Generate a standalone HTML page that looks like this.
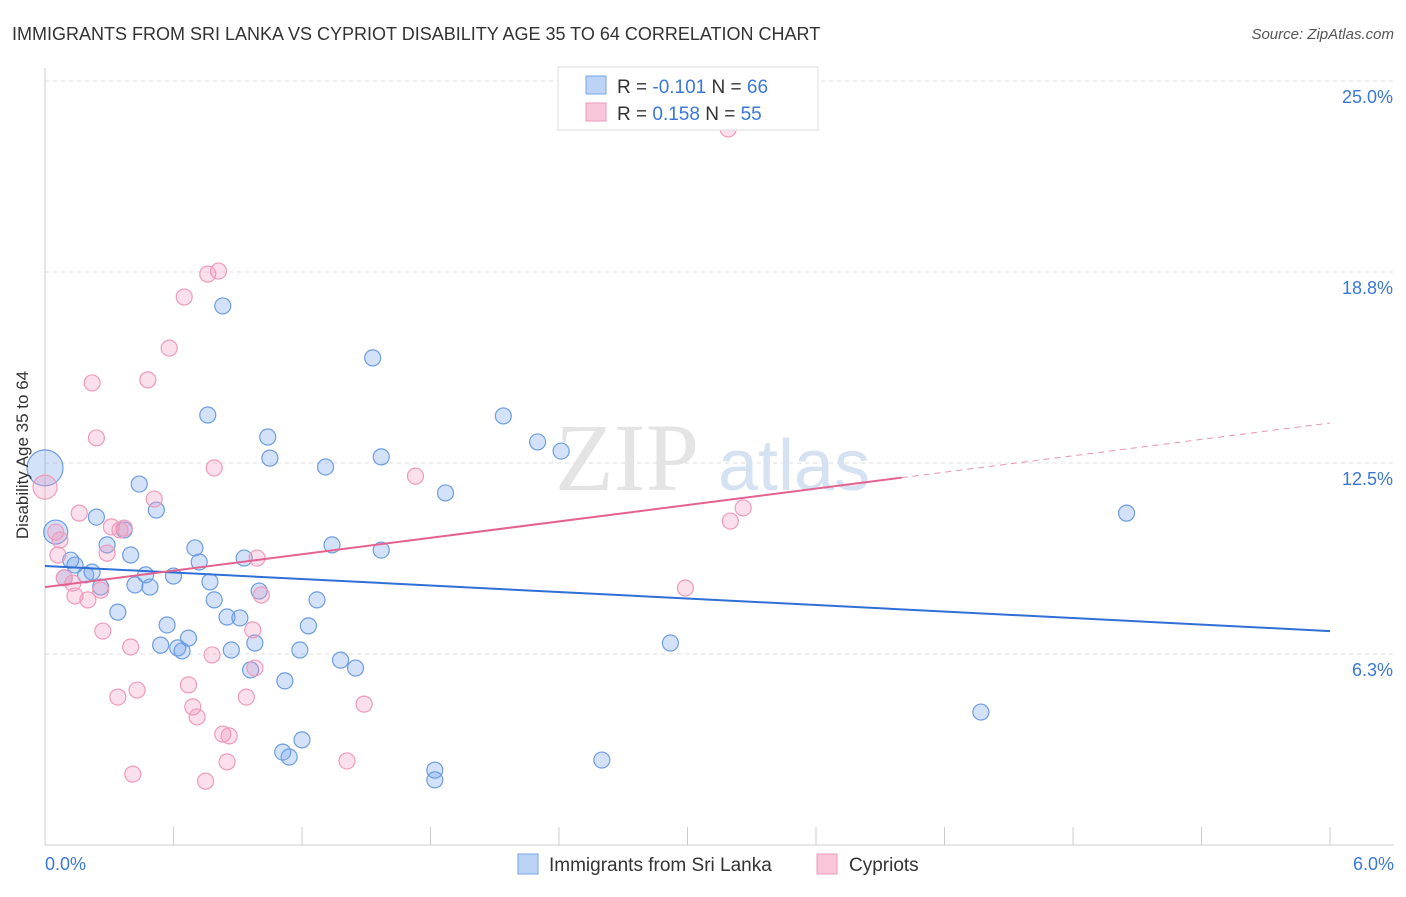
<!DOCTYPE html>
<html><head><meta charset="utf-8"><style>
body{margin:0;background:#fff;font-family:"Liberation Sans",sans-serif;}
</style></head><body>
<svg width="1406" height="892" xmlns="http://www.w3.org/2000/svg">
<text x="12" y="40" font-size="18" fill="#333">IMMIGRANTS FROM SRI LANKA VS CYPRIOT DISABILITY AGE 35 TO 64 CORRELATION CHART</text>
<text x="1394" y="39" font-size="15" fill="#555" font-style="italic" text-anchor="end">Source: ZipAtlas.com</text>
<g id="grid"></g>
<g id="axes"></g>
<text x="555" y="490" font-size="96" fill="#e4e4e4" font-family="Liberation Serif">ZIP</text>
<text x="718" y="490" font-size="72" fill="#d6e2f2">atlas</text>
<g id="marks"></g>
<g id="trends"></g>
<g>
<rect x="558" y="67" width="260" height="63" fill="#fff" stroke="#ddd"/>
<rect x="586" y="76" width="20" height="18" fill="#bcd3f5" stroke="#7aa5e6"/>
<rect x="586" y="103" width="20" height="18" fill="#f9c5d8" stroke="#ef9bbb"/>
<text x="617" y="93" font-size="19" fill="#333">R = <tspan fill="#3a78d8">-0.101</tspan>   N = <tspan fill="#3a78d8">66</tspan></text>
<text x="617" y="120" font-size="19" fill="#333">R =  <tspan fill="#3a78d8">0.158</tspan>   N = <tspan fill="#3a78d8">55</tspan></text>
</g>
<g>
<rect x="518" y="854" width="20" height="20" fill="#bcd3f5" stroke="#7aa5e6"/>
<text x="549" y="871" font-size="19" fill="#333">Immigrants from Sri Lanka</text>
<rect x="817" y="854" width="20" height="20" fill="#f9c5d8" stroke="#ef9bbb"/>
<text x="849" y="871" font-size="19" fill="#333">Cypriots</text>
</g>
<text x="28" y="455" font-size="17" fill="#333" text-anchor="middle" transform="rotate(-90 28 455)">Disability Age 35 to 64</text>
</svg>
<script>
const yTicks=[25,18.75,12.5,6.25];
const yTickLabels=["25.0%","18.8%","12.5%","6.3%"];
const xTicks=[0,0.6,1.2,1.8,2.4,3.0,3.6,4.2,4.8,5.4,6.0];
const xTickLabels=["0.0%","6.0%"];
const blueX=[0,.05,.12,.14,.09,.19,.22,.26,.24,.29,.34,.37,.40,.44,.47,.49,.42,.52,.54,.57,.60,.62,.64,.67,.70,.72,.76,.77,.79,.83,.85,.87,.91,.93,.96,.98,1.00,1.04,1.05,1.12,1.11,1.14,1.19,1.20,1.23,1.27,1.31,1.34,1.38,1.45,1.53,1.57,1.57,1.82,1.82,1.87,2.14,2.30,2.41,2.60,2.92,4.37,5.05];
const blueY=[12.34,10.24,9.32,9.16,8.74,8.84,8.93,8.44,10.73,9.82,7.62,10.31,9.49,11.81,8.84,8.44,8.51,10.96,6.54,7.20,8.80,6.45,6.35,6.77,9.72,9.26,14.07,8.61,8.02,17.64,7.46,6.38,7.43,9.39,5.73,6.61,8.31,13.35,12.66,5.37,3.04,2.88,6.38,3.44,7.17,8.02,12.37,9.82,6.05,5.79,15.94,12.70,9.65,2.45,2.13,11.52,14.04,13.19,12.89,2.78,6.61,4.35,10.86];
const pinkX=[0,.05,.07,.06,.09,.13,.14,.16,.20,.22,.24,.26,.27,.29,.31,.34,.35,.37,.40,.41,.43,.48,.51,.58,.65,.67,.69,.71,.75,.76,.78,.79,.81,.83,.85,.86,.94,.97,.98,.99,1.01,1.41,1.49,1.73,2.99,3.20,3.26,3.19];
const pinkY=[11.71,10.24,9.98,9.49,8.74,8.57,8.15,10.86,8.02,15.12,13.32,8.34,7.00,9.55,10.41,4.84,10.31,10.37,6.48,2.32,5.07,15.22,11.32,16.26,17.93,5.24,4.52,4.19,2.09,18.68,6.22,12.34,18.78,3.63,2.72,3.57,4.84,7.04,5.79,9.39,8.18,2.75,4.61,12.07,8.41,10.60,11.03,23.43];
const blueTrend=[9.13,7.00];
const pinkTrend=[8.44,13.81];
const pinkSolidEnd=4.0;
const X=v=>45+v*214.17, Y=v=>81+(25-v)*30.56;
const NS="http://www.w3.org/2000/svg";
function mk(t,a,p){const e=document.createElementNS(NS,t);for(const k in a)e.setAttribute(k,a[k]);p.appendChild(e);return e;}
const grid=document.getElementById('grid'),axes=document.getElementById('axes'),marks=document.getElementById('marks'),trends=document.getElementById('trends');
yTicks.forEach((t,i)=>{
 const l=mk('line',{x1:45,x2:1394,y1:Y(t),y2:Y(t),stroke:'#ddd','stroke-dasharray':'4,4'},grid);
 
 
 const tx=mk('text',{x:1393,y:Y(t)+22,'font-size':18,fill:'#3a78d8','text-anchor':'end'},axes);
 tx.textContent=yTickLabels[i];
 
 
});
const ax=mk('line',{x1:45,x2:1394,y1:845,y2:845,stroke:'#ccc'},axes);


const ay=mk('line',{x1:45,x2:45,y1:68,y2:845,stroke:'#ccc'},axes);


xTicks.forEach(t=>{
 const l=mk('line',{x1:X(t),x2:X(t),y1:827,y2:845,stroke:'#ccc'},axes);
 
 
});
[[0,'start',45],[6,'end',1394]].forEach((d,i)=>{
 const tx=mk('text',{x:d[2],y:870,'font-size':18,fill:'#3a78d8','text-anchor':d[1]},axes);
 tx.textContent=xTickLabels[i];
 
 
});
blueX.forEach((v,i)=>{
 const c=mk('circle',{cx:X(v),cy:Y(blueY[i]),r:i==0?18:(i==1?12:8),fill:'rgba(110,160,235,0.3)',stroke:'#6d9de2','stroke-width':1.2},marks);
 
 
});
pinkX.forEach((v,i)=>{
 const c=mk('circle',{cx:X(v),cy:Y(pinkY[i]),r:i==0?12:8,fill:'rgba(242,150,185,0.3)',stroke:'#ef9bbb','stroke-width':1.2},marks);
 
 
});
const bl=mk('line',{x1:X(0),y1:Y(blueTrend[0]),x2:X(6),y2:Y(blueTrend[1]),stroke:'#2f6fd6','stroke-width':2},trends);


const pe=pinkTrend[0]+(pinkTrend[1]-pinkTrend[0])*pinkSolidEnd/6;
const pl=mk('line',{x1:X(0),y1:Y(pinkTrend[0]),x2:X(pinkSolidEnd),y2:Y(pe),stroke:'#e4628f','stroke-width':2},trends);


const pd=mk('line',{x1:X(pinkSolidEnd),y1:Y(pe),x2:X(6),y2:Y(pinkTrend[1]),stroke:'#e993b3','stroke-width':1,'stroke-dasharray':'6,5'},trends);


</script>
</body></html>
